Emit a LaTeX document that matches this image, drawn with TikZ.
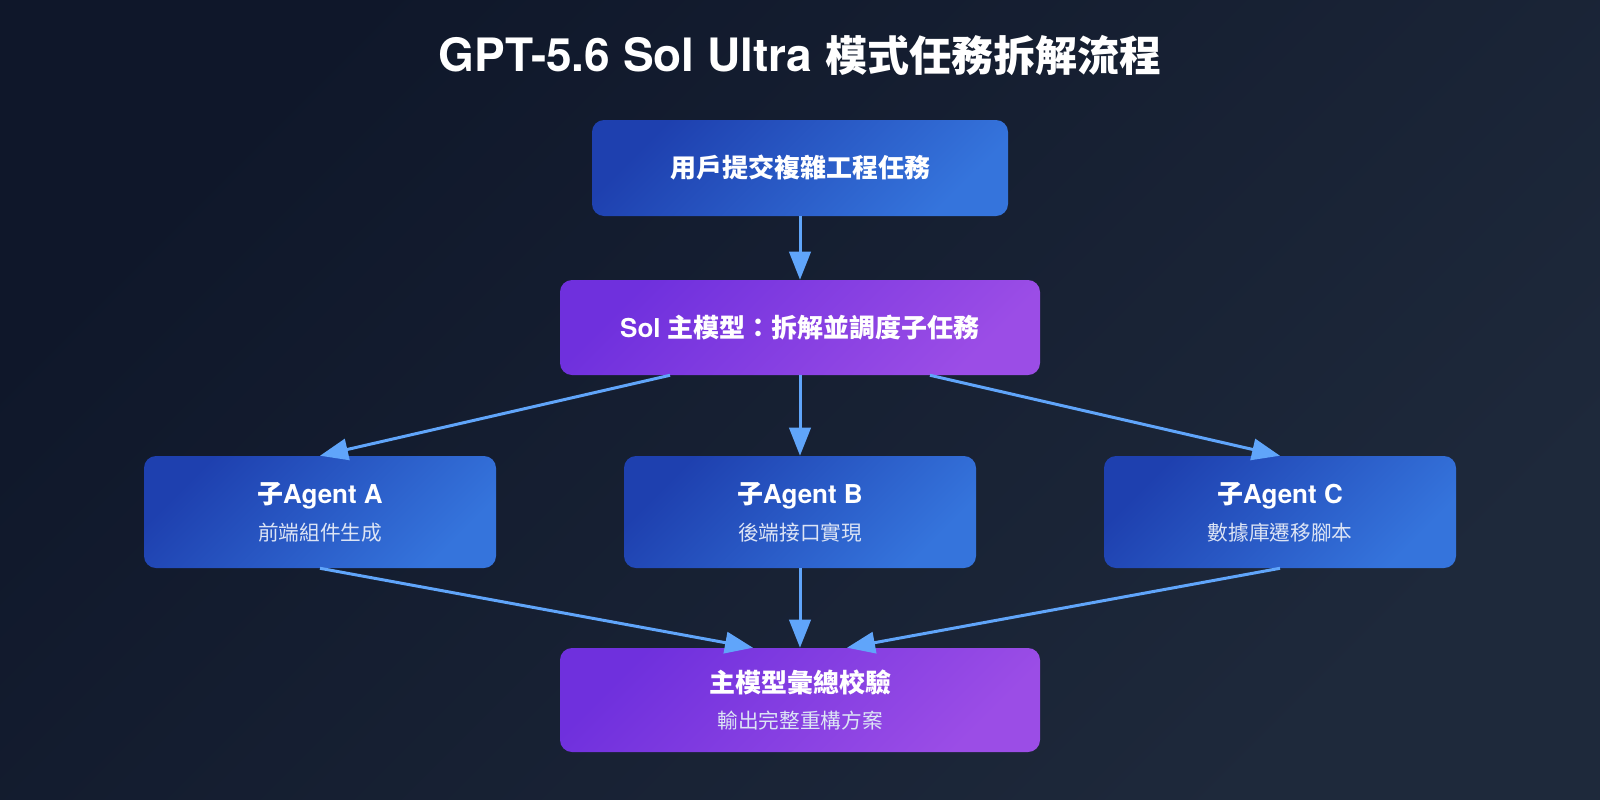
\documentclass[tikz,border=0pt]{standalone}
\usepackage{fontspec}
\setmainfont{TeX Gyre Heros}
\newfontfamily\cjk{Noto Sans CJK TC}
\usetikzlibrary{arrows.meta,positioning}

\definecolor{bgtop}{HTML}{0F172A}
\definecolor{bgbot}{HTML}{1E293B}
\definecolor{blueA}{HTML}{1E40AF}
\definecolor{blueB}{HTML}{3574DC}
\definecolor{violetA}{HTML}{6F30DD}
\definecolor{violetB}{HTML}{9B4DE6}
\definecolor{flowc}{HTML}{60A5FA}
\definecolor{subtext}{HTML}{DCE4F5}

\newcommand\headfont{\fontsize{19.5}{24}\selectfont\bfseries}
\newcommand\subfont{\fontsize{15.5}{20}\selectfont\color{subtext}}

\tikzset{
  box/.style={rounded corners=9pt, align=center, text=white, inner sep=0pt},
  bluebox/.style={box, top color=blueA, bottom color=blueB, shading angle=45},
  violetbox/.style={box, top color=violetA, bottom color=violetB, shading angle=45},
  agentbox/.style={bluebox, minimum width=264pt, minimum height=84pt},
  flow/.style={draw=flowc, line width=2.25pt, -{Triangle[length=21pt,width=16pt]}},
}

\begin{document}
\begin{tikzpicture}[x=0.75pt,y=-0.75pt]
  % background
  \shade[top color=bgtop, bottom color=bgbot, shading angle=45] (0,0) rectangle (1600,800);

  \node[anchor=base, text=white] (title) at (800,71)
    {\fontsize{34.5}{40}\selectfont\bfseries GPT-5.6 Sol Ultra {\cjk\fontsize{31.5}{40}\selectfont 模式任務拆解流程}};

  \node[bluebox, minimum width=312pt, minimum height=72pt] (task) at (800,168)
    {\headfont\cjk 用戶提交複雜工程任務};
  \node[violetbox, minimum width=360pt, minimum height=71.25pt] (sol) at (800,327.5)
    {\headfont Sol {\cjk 主模型：拆解並調度子任務}};

  % sub agents
  \node[agentbox] (agA) at (320,512)
    {{\headfont{\cjk 子}Agent A}\\[9.5pt]{\subfont\cjk 前端組件生成}};
  \node[agentbox] (agB) at (800,512)
    {{\headfont{\cjk 子}Agent B}\\[9.5pt]{\subfont\cjk 後端接口實現}};
  \node[agentbox] (agC) at (1280,512)
    {{\headfont{\cjk 子}Agent C}\\[9.5pt]{\subfont\cjk 數據庫遷移腳本}};

  \node[violetbox, minimum width=360pt, minimum height=78pt] (merge) at (800,700)
    {{\headfont\cjk 主模型彙總校驗}\\[10.5pt]{\subfont\cjk 輸出完整重構方案}};

  \draw[flow] (task) -- (sol);
  \draw[flow] ([xshift=-97.5pt]sol.south) -- (agA.north);
  \draw[flow] (sol) -- (agB);
  \draw[flow] ([xshift=97.5pt]sol.south) -- (agC.north);
  \draw[flow] (agA.south) -- ([xshift=-35.25pt]merge.north);
  \draw[flow] (agB) -- (merge);
  \draw[flow] (agC.south) -- ([xshift=35.25pt]merge.north);
\end{tikzpicture}
\end{document}
